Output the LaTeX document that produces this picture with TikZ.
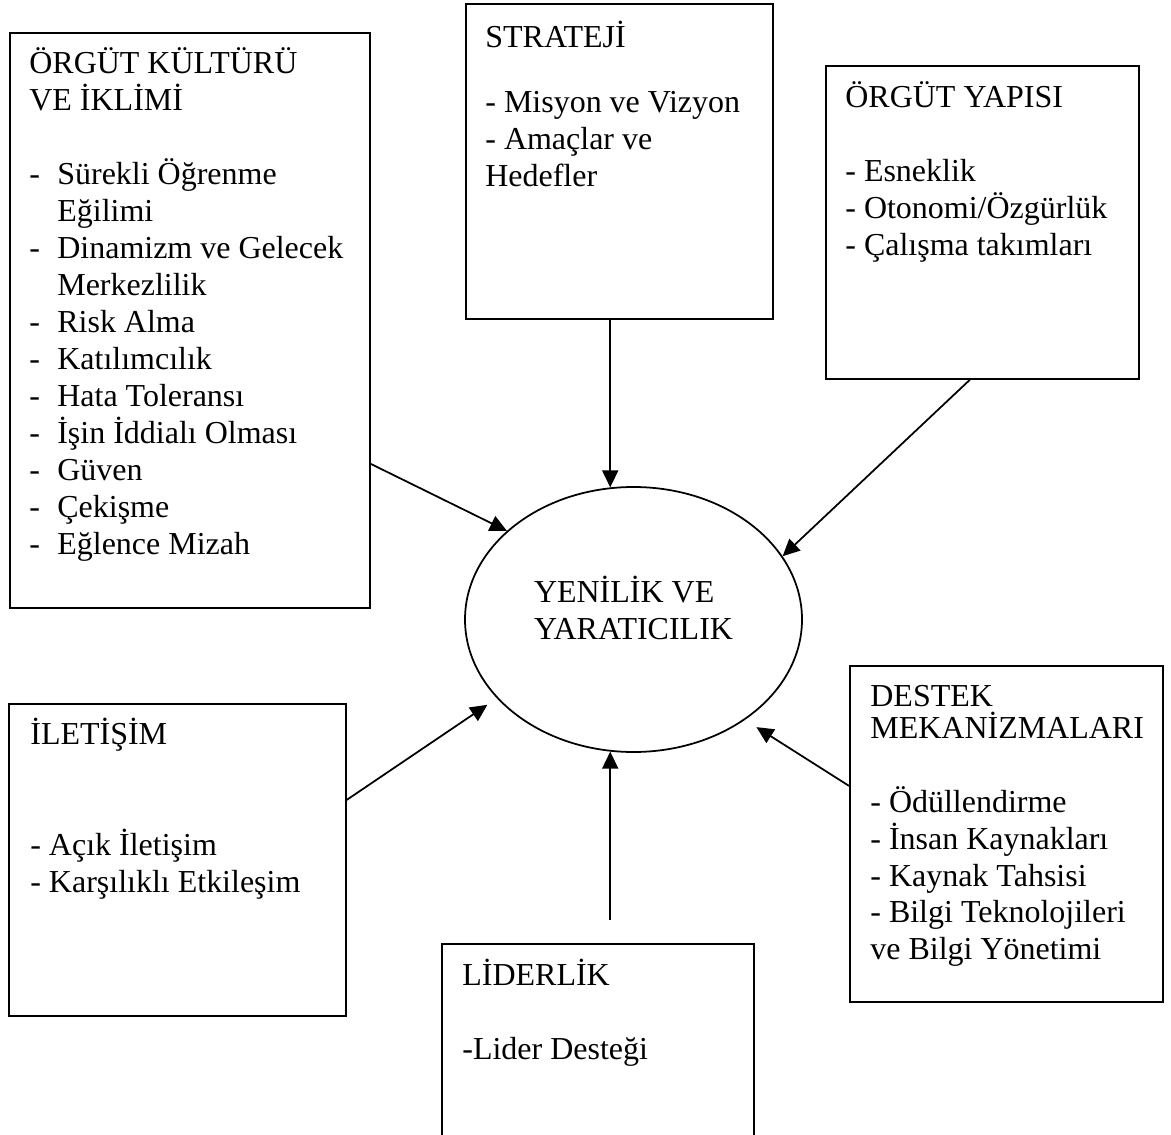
\documentclass[tikz,border=0pt]{standalone}
\usepackage{fontspec}
\setmainfont{Liberation Serif}
\usepackage{tikz}
\usetikzlibrary{shapes,arrows.meta,positioning,calc}
\tikzstyle{kutu} = [rectangle, draw=black, line width=1pt, anchor=north west, inner sep=0pt]
\tikzstyle{yazi} = [align=left, inner sep=0pt, font=\fontsize{18.2}{21.05}\selectfont]
\tikzstyle{merkez} = [ellipse, draw=black, line width=1pt, minimum width=6.74cm, minimum height=5.3cm]
\tikzstyle{ok} = [line width=1pt, -{Triangle[length=0.34cm,width=0.32cm]}]
\newcommand{\madde}{\makebox[0.56cm][l]{-}}
\newcommand{\girinti}{\hspace*{0.56cm}}

\begin{document}
\begin{tikzpicture}
\useasboundingbox (0,0) rectangle (23.42,-22.7);

% Center
\node [merkez, label={[yazi, yshift=0.24cm]center:YENİLİK VE\\YARATICILIK}] (yen) at (12.67,-12.39) {};

% Boxes
\node [kutu, minimum width=7.2cm, minimum height=11.5cm] (kultur) at (0.18,-0.64) {};
\node [kutu, minimum width=6.14cm, minimum height=6.3cm] (strateji) at (9.3,-0.06) {};
\node [kutu, minimum width=6.26cm, minimum height=6.26cm] (yapi) at (16.5,-1.3) {};
\node [kutu, minimum width=6.74cm, minimum height=6.24cm] (iletisim) at (0.16,-14.06) {};
\node [kutu, minimum width=6.24cm, minimum height=3.94cm] (lider) at (8.82,-18.86) {};
\node [kutu, minimum width=6.26cm, minimum height=6.72cm] (destek) at (16.98,-13.3) {};

% Texts
\node [yazi, below right=0.3cm and 0.4cm of kultur.north west] (kultur-y) {ÖRGÜT KÜLTÜRÜ\\VE İKLİMİ\\[0.74cm]
\madde Sürekli Öğrenme\\\girinti Eğilimi\\\madde Dinamizm ve Gelecek\\\girinti Merkezlilik\\\madde Risk Alma\\\madde Katılımcılık\\\madde Hata Toleransı\\\madde İşin İddialı Olması\\\madde Güven\\\madde Çekişme\\\madde Eğlence Mizah};
\node [yazi, below right=0.36cm and 0.4cm of strateji.north west] (strateji-y) {STRATEJİ\\[0.56cm]- Misyon ve Vizyon\\- Amaçlar ve\\Hedefler};
\node [yazi, below right=0.32cm and 0.4cm of yapi.north west] (yapi-y) {ÖRGÜT YAPISI\\[0.74cm]- Esneklik\\- Otonomi/Özgürlük\\- Çalışma takımları};
\node [yazi, below right=0.3cm and 0.44cm of iletisim.north west] (iletisim-y) {İLETİŞİM\\[1.48cm]- Açık İletişim\\- Karşılıklı Etkileşim};
\node [yazi, below right=0.32cm and 0.42cm of lider.north west] (lider-y) {LİDERLİK\\[0.74cm]-Lider Desteği};
\node [yazi, below right=0.39cm and 0.42cm of destek.north west] (destek-y) {DESTEK\\[-0.1cm]MEKANİZMALARI\\[0.74cm]- Ödüllendirme\\- İnsan Kaynakları\\- Kaynak Tahsisi\\- Bilgi Teknolojileri\\ve Bilgi Yönetimi};

% Arrows
\draw [ok] (yen.100 |- strateji.south) -- (yen.100);
\draw [ok] ([yshift=-2.87cm]kultur.east) -- (yen.145);
\draw [ok] ([xshift=-0.25cm]yapi.south) -- (yen.23);
\draw [ok, shorten >=0.23cm] ([yshift=1.2cm]iletisim.east) -- (yen.210);
\draw [ok] ([yshift=0.46cm]lider.north -| yen.260) -- (yen.260);
\draw [ok, shorten >=0.27cm] ([yshift=0.96cm]destek.west) -- (yen.318);

\end{tikzpicture}
\end{document}
